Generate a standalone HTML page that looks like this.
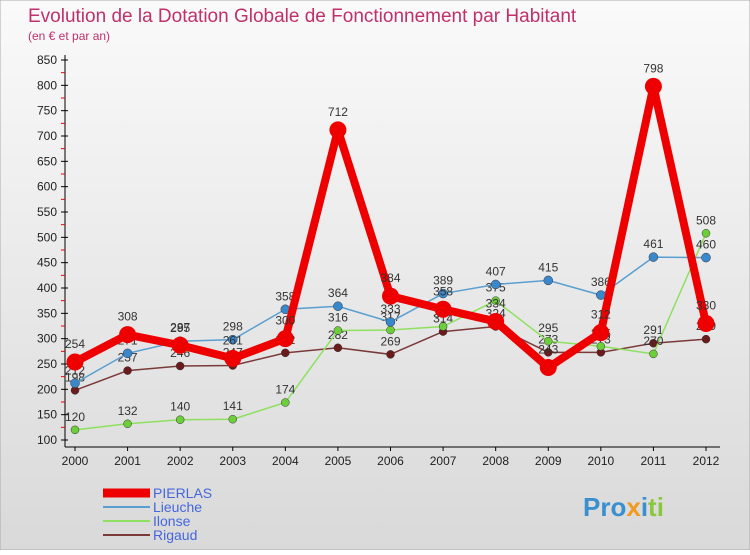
<!DOCTYPE html>
<html><head><meta charset="utf-8"><style>
body{margin:0;width:750px;height:550px;overflow:hidden;font-family:"Liberation Sans",sans-serif}
</style></head><body>
<svg id="c" width="750" height="550" xmlns="http://www.w3.org/2000/svg">
<defs><linearGradient id="bg" x1="0" y1="0" x2="0" y2="1"><stop offset="0" stop-color="#fafafa"/><stop offset="1" stop-color="#d9d9d9"/></linearGradient></defs>
<rect x="0" y="0" width="750" height="550" fill="url(#bg)" stroke="#aaa"/>
<text x="28" y="22" font-size="19" fill="#c0306a">Evolution de la Dotation Globale de Fonctionnement par Habitant</text>
<text x="28" y="40" font-size="12" fill="#c0306a">(en € et par an)</text>
<g id="axes"></g><g id="series"></g><g id="legend"></g>
<text x="583" y="516" font-size="26" font-weight="bold" fill="#3a8fd0">Pro<tspan fill="#f39a1e">x</tspan><tspan fill="#3a8fd0">i</tspan><tspan fill="#8bc63f">ti</tspan></text>
</svg>
<script>
const years=[2000,2001,2002,2003,2004,2005,2006,2007,2008,2009,2010,2011,2012];
const yTicks=[100,150,200,250,300,350,400,450,500,550,600,650,700,750,800,850];
const pierlas=[254,308,287,261,300,712,384,358,334,243,312,798,330];
const lieuche=[212,271,295,298,358,364,333,389,407,415,386,461,460];
const ilonse=[120,132,140,141,174,316,317,324,375,295,285,270,508];
const rigaud=[198,237,246,247,272,282,269,314,324,273,273,291,299];
const NS="http://www.w3.org/2000/svg";
const X=i=>75+i*(706-75)/12;
const Y=v=>440-(v-100)*380/750;
function mk(t,a,p){const e=document.createElementNS(NS,t);for(const k in a)e.setAttribute(k,a[k]);p.appendChild(e);return e;}
const ax=document.getElementById('axes');
let l=mk('line',{x1:65,y1:55,x2:65,y2:447,stroke:'#000'},ax);

l=mk('line',{x1:65,y1:447,x2:720,y2:447,stroke:'#000'},ax);

yTicks.forEach(v=>{
 mk('line',{x1:61,y1:Y(v),x2:68,y2:Y(v),stroke:'#000'},ax);
 if(v<850)mk('line',{x1:61,y1:Y(v+25),x2:65,y2:Y(v+25),stroke:'#e00'},ax);
 const t=mk('text',{x:57,y:Y(v)+4,'font-size':12,'text-anchor':'end',fill:'#222'},ax);t.textContent=v;
 
});
years.forEach((y,i)=>{
 mk('line',{x1:X(i),y1:447,x2:X(i),y2:451,stroke:'#000'},ax);
 const t=mk('text',{x:X(i),y:465,'font-size':12,'text-anchor':'middle',fill:'#222'},ax);t.textContent=y;
 
});
const sg=document.getElementById('series');
const defs=[
 ['rigaud',rigaud,'#7a3a3a','#6b1b1b',1.5,4],
 ['ilonse',ilonse,'#8fe060','#6ccf3a',1.5,4],
 ['lieuche',lieuche,'#5a9fd0','#3a88cc',1.5,4.5],
 ['pierlas',pierlas,'#ee0000','#ee0000',8,8.5]];
defs.forEach(([n,d,lc,pc,w,r])=>{
 const g=mk('g',{},sg);
 
 const p=mk('polyline',{points:d.map((v,i)=>X(i)+','+Y(v)).join(' '),fill:'none',stroke:lc,'stroke-width':w,'stroke-linejoin':'round'},g);
 
 d.forEach((v,i)=>{
  const c=mk('circle',{cx:X(i),cy:Y(v),r:r,fill:pc,stroke:'#333','stroke-width':n==='pierlas'?0:0.5},g);
  
  const t=mk('text',{x:X(i),y:Y(v)-(n==='pierlas'?14:9),'font-size':12,'text-anchor':'middle',fill:'#333'},g);t.textContent=v;
  
 });
});
const lg=document.getElementById('legend');
[['PIERLAS','#ee0000',9],['Lieuche','#5a9fd0',2],['Ilonse','#8fe060',2],['Rigaud','#7a3a3a',2]].forEach(([n,c,w],i)=>{
 const y=493+i*14;
 const g=mk('g',{},lg);
 
 mk('line',{x1:103,y1:y,x2:150,y2:y,stroke:c,'stroke-width':w},g);
 const t=mk('text',{x:153,y:y+5,'font-size':14,fill:'#4466dd'},g);t.textContent=n;
});
</script>
</body></html>
